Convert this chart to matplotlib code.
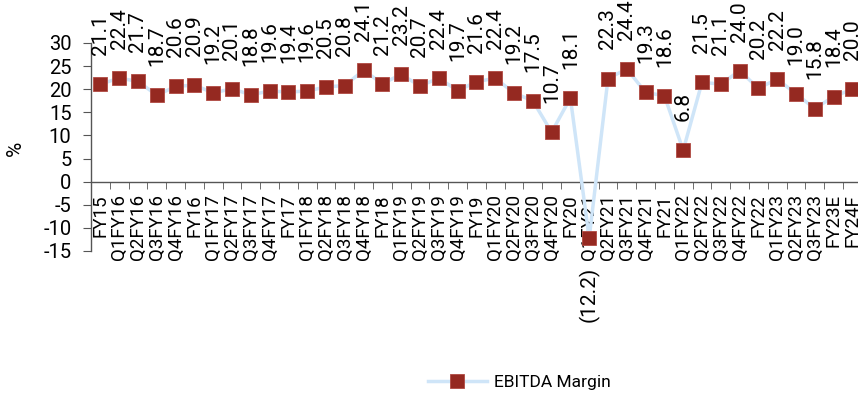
import numpy as np
import matplotlib.pyplot as plt
from matplotlib.ticker import FixedLocator

plt.rcParams["font.family"] = ["Roboto", "DejaVu Sans"]

periods = [
    "FY15", "Q1FY16", "Q2FY16", "Q3FY16", "Q4FY16", "FY16",
    "Q1FY17", "Q2FY17", "Q3FY17", "Q4FY17", "FY17",
    "Q1FY18", "Q2FY18", "Q3FY18", "Q4FY18", "FY18",
    "Q1FY19", "Q2FY19", "Q3FY19", "Q4FY19", "FY19",
    "Q1FY20", "Q2FY20", "Q3FY20", "Q4FY20", "FY20",
    "Q1FY21", "Q2FY21", "Q3FY21", "Q4FY21", "FY21",
    "Q1FY22", "Q2FY22", "Q3FY22", "Q4FY22", "FY22",
    "Q1FY23", "Q2FY23", "Q3FY23", "FY23E", "FY24F",
]
ebitda_margin = [
    21.1, 22.4, 21.7, 18.7, 20.6, 20.9,
    19.2, 20.1, 18.8, 19.6, 19.4,
    19.6, 20.5, 20.8, 24.1, 21.2,
    23.2, 20.7, 22.4, 19.7, 21.6,
    22.4, 19.2, 17.5, 10.7, 18.1,
    -12.2, 22.3, 24.4, 19.3, 18.6,
    6.8, 21.5, 21.1, 24.0, 20.2,
    22.2, 19.0, 15.8, 18.4, 20.0,
]
yticks = list(range(-15, 31, 5))

W, H = 858, 394
fig = plt.figure(figsize=(W / 100, H / 100), dpi=100)
n = len(periods)
step = 18.8
ax = fig.add_axes([91 / W, (H - 251) / H, n * step / W, 208 / H])

x = np.arange(n)
ax.plot(x, ebitda_margin, color="#cfe5f8", lw=2.5, marker="s", ms=10.5,
        mfc="#952921", mec="#b04a42", mew=0.6, label="EBITDA Margin", zorder=3)

# value labels, rotated, above the marker (below for the negative quarter)
for xi, v in zip(x, ebitda_margin):
    if v >= 0:
        ax.annotate(f"{v:.1f}", (xi, v), xytext=(0, 21), textcoords="offset points",
                    rotation=90, ha="center", va="bottom", fontsize=15, annotation_clip=False)
    else:
        ax.annotate(f"({abs(v):.1f})", (xi, v), xytext=(0, -21), textcoords="offset points",
                    rotation=90, ha="center", va="top", fontsize=15, annotation_clip=False)

ax.set_xlim(-0.5, n - 0.5)
ax.set_ylim(-15, 30)
ax.set_yticks(yticks)
ax.set_yticklabels([str(t) for t in yticks], fontsize=14.5)
ax.set_ylabel("%", fontsize=15)
ax.yaxis.set_label_coords(-0.086, 0.495)

ax.spines["top"].set_visible(False)
ax.spines["right"].set_visible(False)
ax.spines["bottom"].set_position(("data", 0))
for s in ("left", "bottom"):
    ax.spines[s].set_color("#555555")
    ax.spines[s].set_linewidth(1.0)

ax.set_xticks(x)
ax.set_xticklabels(periods, rotation=90, fontsize=13.5, va="top")
ax.xaxis.set_minor_locator(FixedLocator(np.arange(-0.5, n, 1.0)))
ax.tick_params(axis="x", which="major", length=0, pad=9)
ax.tick_params(axis="x", which="minor", length=5, color="#555555", direction="out")
ax.tick_params(axis="y", length=6, color="#555555", direction="out", pad=8)

fig.legend(loc="center", bbox_to_anchor=(0.605, 0.03), frameon=False, fontsize=12.5,
           handlelength=3.4, handletextpad=0.4)

plt.savefig("out.png", dpi=100)
